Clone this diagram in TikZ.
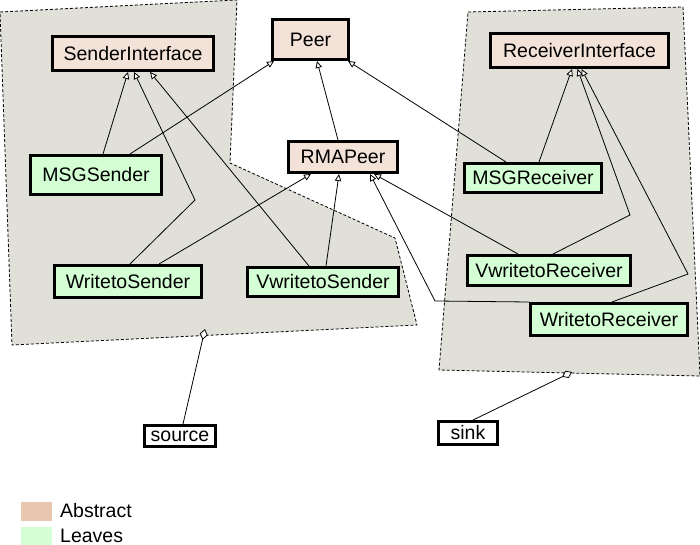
\documentclass[tikz,border=0pt]{standalone}
\usepackage{fontspec}
\setmainfont{Liberation Sans}
\usetikzlibrary{arrows.meta}
\definecolor{abs}{RGB}{242,226,216}
\definecolor{leaf}{RGB}{212,254,212}
\definecolor{grp}{RGB}{224,224,216}
\definecolor{absleg}{RGB}{232,198,176}
\begin{document}
\begin{tikzpicture}[x=1pt,y=-1pt,
  lbl/.style={font=\fontsize{19.5pt}{23pt}\selectfont},
  box/.style={lbl, draw=black, line width=3pt, inner sep=0pt},
  absbox/.style={box, fill=abs},
  leafbox/.style={box, fill=leaf},
  plainbox/.style={box, fill=white},
  grpoly/.style={fill=grp, draw=black, line width=0.8pt, dash pattern=on 3pt off 2pt},
  inh/.style={line width=0.8pt, -{Triangle[length=7pt,width=6.5pt,fill=white]}},
  agg/.style={line width=0.8pt, -{Diamond[length=11pt,width=8pt,fill=white]}},
  swatch/.style={inner sep=0pt, minimum width=31pt, minimum height=19pt},
]
\useasboundingbox (0,0) rectangle (700,545);
% groups
\draw[grpoly] (0,12) -- (237,0) -- (230,163) -- (395,238) -- (417,325) -- (12,345) -- cycle;
\draw[grpoly] (468,12) -- (683,7) -- (700,376) -- (439,370) -- cycle;
% nodes
\node[absbox, minimum width=161pt, minimum height=34pt] (si) at (133,53.5) {SenderInterface};
\node[absbox, minimum width=76pt, minimum height=40pt] (peer) at (310.5,39.5) {Peer};
\node[leafbox, minimum width=131pt, minimum height=39pt] (msgs) at (96,175) {MSGSender};
\node[absbox, minimum width=109pt, minimum height=31pt] (rma) at (343,157) {RMAPeer};
\node[leafbox, minimum width=147pt, minimum height=32pt] (ws) at (128,281.5) {WritetoSender};
\node[leafbox, minimum width=151pt, minimum height=29pt] (vws) at (323,282) {VwritetoSender};
\node[absbox, minimum width=178pt, minimum height=34pt] (ri) at (579.5,50.5) {ReceiverInterface};
\node[leafbox, minimum width=137pt, minimum height=29pt] (msgr) at (533,178) {MSGReceiver};
\node[leafbox, minimum width=163pt, minimum height=30pt] (vwr) at (549,270.5) {VwritetoReceiver};
\node[leafbox, minimum width=157pt, minimum height=32pt] (wr) at (609,319.5) {WritetoReceiver};
\node[plainbox, minimum width=71pt, minimum height=21pt] (src) at (180,436) {source};
\node[plainbox, minimum width=59pt, minimum height=23pt] (snk) at (468,433) {sink};
% inheritance
\draw[inh] ([xshift=7pt]msgs.north) -- ([xshift=-5pt]si.south);
\draw[inh] ([xshift=34pt]msgs.north) -- ([xshift=-36.5pt]peer.south);
\draw[inh] ([xshift=2pt]ws.north) -- (195,200) -- ([xshift=1pt]si.south);
\draw[inh] ([xshift=31pt]ws.north) -- ([xshift=-32pt]rma.south);
\draw[inh] ([xshift=-14pt]vws.north) -- ([xshift=17pt]si.south);
\draw[inh] ([xshift=3pt]vws.north) -- ([xshift=-4pt]rma.south);
\draw[inh] ([xshift=-5pt]rma.north) -- ([xshift=6.5pt]peer.south);
\draw[inh] ([xshift=-27pt]msgr.north) -- ([xshift=37.5pt]peer.south);
\draw[inh] ([xshift=6pt]msgr.north) -- ([xshift=-7.5pt]ri.south);
\draw[inh] ([xshift=4pt]vwr.north) -- (630,215) -- ([xshift=-2pt]ri.south);
\draw[inh] ([xshift=3pt]wr.north) -- (688,274) -- ([xshift=2pt]ri.south);
\draw[inh] ([xshift=-31pt]vwr.north) -- ([xshift=31pt]rma.south);
\draw[inh] (wr.north west) -- (435,301) -- ([xshift=27pt]rma.south);
% aggregation
\coordinate (srcagg) at (205,329);
\coordinate (snkagg) at (572,372);
\draw[agg] ([xshift=3pt]src.north) -- (srcagg);
\draw[agg] ([xshift=5pt]snk.north) -- (snkagg);
% legend
\node[swatch, fill=absleg] (labs) at (36.5,511.5) {};
\node[swatch, fill=leaf] (lleaf) at (36,536) {};
\node[lbl, anchor=west, inner sep=0pt] (tabs) at (60,511) {Abstract};
\node[lbl, anchor=west, inner sep=0pt] (tleaf) at (60,536) {Leaves};
\end{tikzpicture}
\end{document}
